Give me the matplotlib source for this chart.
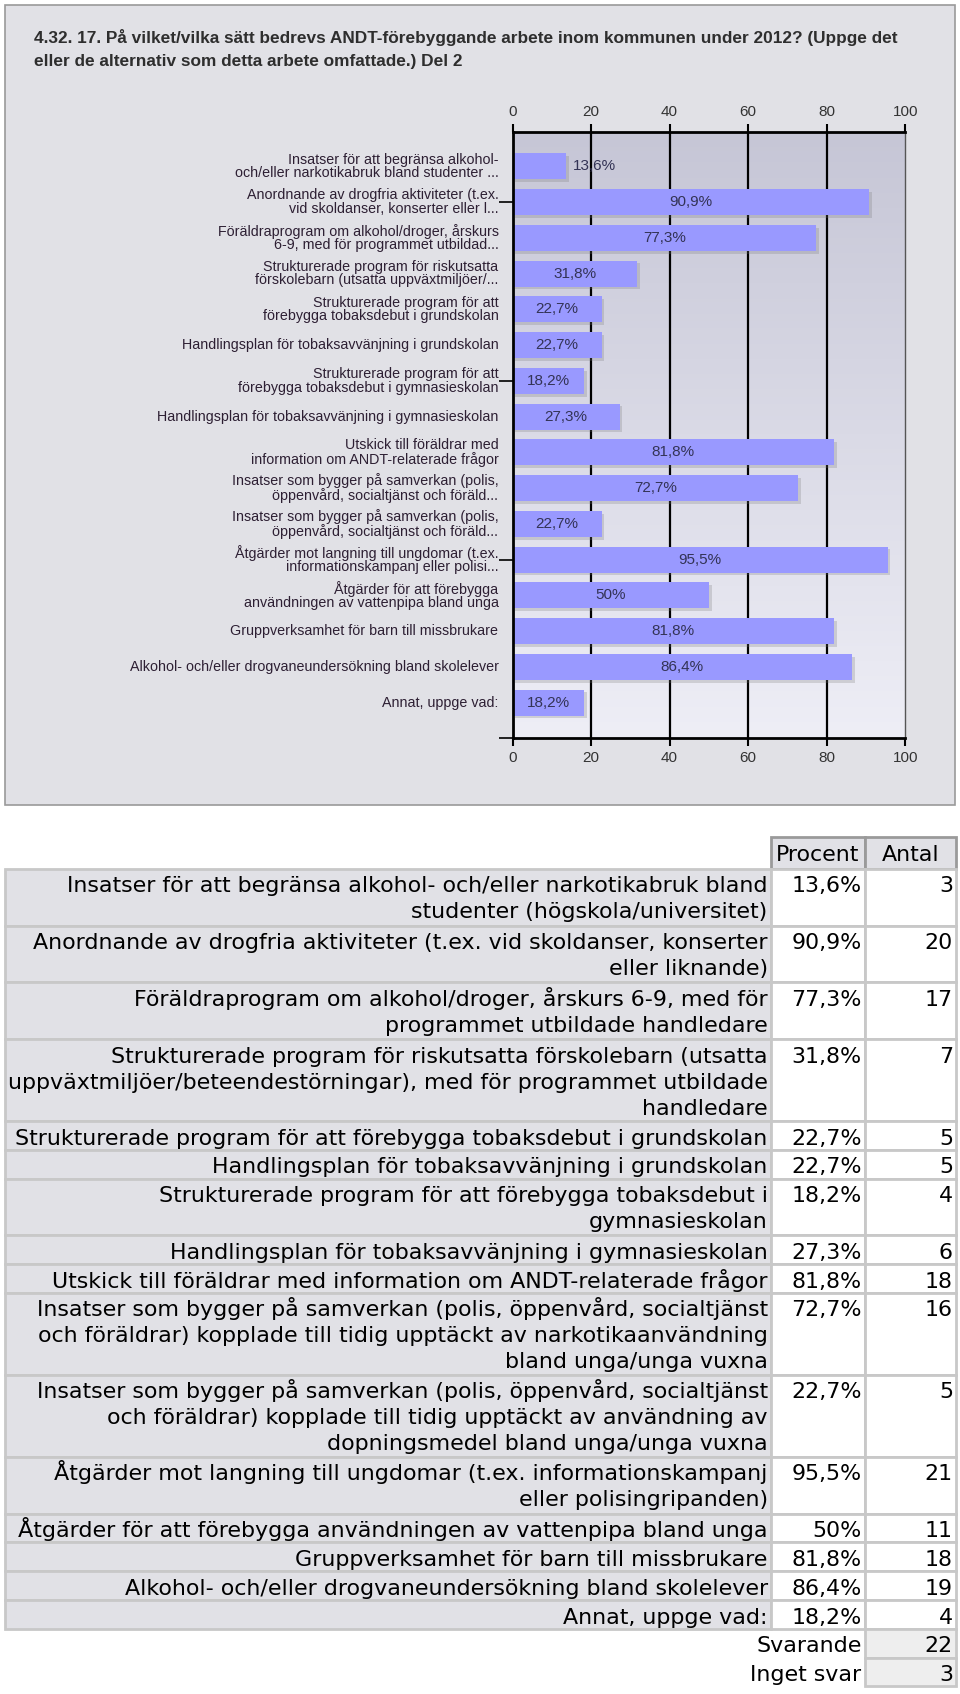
import numpy as np
import matplotlib
matplotlib.use('Agg')
import matplotlib.pyplot as plt
from matplotlib.patches import Rectangle
from matplotlib.colors import LinearSegmentedColormap
import matplotlib.patheffects as pe

# ---------------- data ----------------
title_lines = [
    "4.32. 17. På vilket/vilka sätt bedrevs ANDT-förebyggande arbete inom kommunen under 2012? (Uppge det",
    "eller de alternativ som detta arbete omfattade.) Del 2",
]

chart_labels = [
    "Insatser för att begränsa alkohol-\noch/eller narkotikabruk bland studenter ...",
    "Anordnande av drogfria aktiviteter (t.ex.\nvid skoldanser, konserter eller l...",
    "Föräldraprogram om alkohol/droger, årskurs\n6-9, med för programmet utbildad...",
    "Strukturerade program för riskutsatta\nförskolebarn (utsatta uppväxtmiljöer/...",
    "Strukturerade program för att\nförebygga tobaksdebut i grundskolan",
    "Handlingsplan för tobaksavvänjning i grundskolan",
    "Strukturerade program för att\nförebygga tobaksdebut i gymnasieskolan",
    "Handlingsplan för tobaksavvänjning i gymnasieskolan",
    "Utskick till föräldrar med\ninformation om ANDT-relaterade frågor",
    "Insatser som bygger på samverkan (polis,\nöppenvård, socialtjänst och föräld...",
    "Insatser som bygger på samverkan (polis,\nöppenvård, socialtjänst och föräld...",
    "Åtgärder mot langning till ungdomar (t.ex.\ninformationskampanj eller polisi...",
    "Åtgärder för att förebygga\nanvändningen av vattenpipa bland unga",
    "Gruppverksamhet för barn till missbrukare",
    "Alkohol- och/eller drogvaneundersökning bland skolelever",
    "Annat, uppge vad:",
]

table_labels = [
    "Insatser för att begränsa alkohol- och/eller narkotikabruk bland\nstudenter (högskola/universitet)",
    "Anordnande av drogfria aktiviteter (t.ex. vid skoldanser, konserter\neller liknande)",
    "Föräldraprogram om alkohol/droger, årskurs 6-9, med för\nprogrammet utbildade handledare",
    "Strukturerade program för riskutsatta förskolebarn (utsatta\nuppväxtmiljöer/beteendestörningar), med för programmet utbildade\nhandledare",
    "Strukturerade program för att förebygga tobaksdebut i grundskolan",
    "Handlingsplan för tobaksavvänjning i grundskolan",
    "Strukturerade program för att förebygga tobaksdebut i\ngymnasieskolan",
    "Handlingsplan för tobaksavvänjning i gymnasieskolan",
    "Utskick till föräldrar med information om ANDT-relaterade frågor",
    "Insatser som bygger på samverkan (polis, öppenvård, socialtjänst\noch föräldrar) kopplade till tidig upptäckt av narkotikaanvändning\nbland unga/unga vuxna",
    "Insatser som bygger på samverkan (polis, öppenvård, socialtjänst\noch föräldrar) kopplade till tidig upptäckt av användning av\ndopningsmedel bland unga/unga vuxna",
    "Åtgärder mot langning till ungdomar (t.ex. informationskampanj\neller polisingripanden)",
    "Åtgärder för att förebygga användningen av vattenpipa bland unga",
    "Gruppverksamhet för barn till missbrukare",
    "Alkohol- och/eller drogvaneundersökning bland skolelever",
    "Annat, uppge vad:",
]

percent = [13.6, 90.9, 77.3, 31.8, 22.7, 22.7, 18.2, 27.3, 81.8, 72.7, 22.7, 95.5, 50, 81.8, 86.4, 18.2]
antal = [3, 20, 17, 7, 5, 5, 4, 6, 18, 16, 5, 21, 11, 18, 19, 4]
header = ["Procent", "Antal"]
summary_labels = ["Svarande", "Inget svar"]
summary_values = [22, 3]
x_ticks = [0, 20, 40, 60, 80, 100]
y_marks = [1, 6, 11, 16]


def fmt_pct(v):
    s = f"{v:.1f}"
    if s.endswith(".0"):
        s = s[:-2]
    return s.replace(".", ",") + "%"


# ---------------- figure ----------------
W, H = 960, 1694
fig = plt.figure(figsize=(W / 100, H / 100), dpi=100)
fig.patch.set_facecolor('white')

base = fig.add_axes([0, 0, 1, 1])
base.set_xlim(0, W)
base.set_ylim(H, 0)
base.axis('off')

# chart panel
base.add_patch(Rectangle((5, 5), 950, 800, facecolor='#e1e1e6', edgecolor='#9a9a9a', lw=1.2))
TF = 'Liberation Sans'
base.text(34, 38, title_lines[0], fontsize=12.4, fontweight='bold', color='#2e2e2e',
          va='center', ha='left', family=TF)
base.text(34, 61.5, title_lines[1], fontsize=12.4, fontweight='bold', color='#2e2e2e',
          va='center', ha='left', family=TF)

# chart axes
ax_l, ax_r, ax_t, ax_b = 512.5, 905.2, 131.7, 738.3
pos = [ax_l / W, 1 - ax_b / H, (ax_r - ax_l) / W, (ax_b - ax_t) / H]

bg = fig.add_axes(pos)
grad = LinearSegmentedColormap.from_list('g', ['#c6c6d6', '#eeeef6'])
bg.imshow(np.linspace(0, 1, 256)[:, None], cmap=grad, aspect='auto',
          extent=(0, 1, 0, 1), origin='upper')
bg.axis('off')

ax = fig.add_axes(pos)
ax.patch.set_alpha(0)
n = len(percent)
ypos = np.arange(n)
ax.barh(ypos, percent, height=0.73, color='#9999ff', zorder=3,
        path_effects=[pe.SimplePatchShadow(offset=(2, -2), shadow_rgbFace='#777777', alpha=0.25), pe.Normal()])
ax.set_xlim(0, 100)
ax.set_ylim(16.0, -0.97)

for g in x_ticks[1:-1]:
    ax.axvline(g, color='black', lw=1.6, zorder=1)

for s in ['top', 'bottom', 'left']:
    ax.spines[s].set_color('black')
    ax.spines[s].set_linewidth(2)
    ax.spines[s].set_zorder(4)
ax.spines['right'].set_color('#555555')
ax.spines['right'].set_linewidth(1)

ax.set_xticks(x_ticks)
ax.tick_params(axis='x', top=True, bottom=True, labeltop=True, labelbottom=True,
               length=6, width=1.5, color='black', labelsize=11, labelcolor='#333333', pad=3)
for t in ax.get_xticklabels():
    t.set_family(TF)
ax.set_yticks(y_marks)
ax.tick_params(axis='y', length=10, width=1.2, color='black', labelleft=False)

for i, lab in enumerate(chart_labels):
    ax.annotate(lab, xy=(0, i), xycoords=('axes fraction', 'data'), xytext=(-14, 0),
                textcoords='offset pixels', ha='right', va='center', fontsize=10.3,
                color='#2d1f33', linespacing=0.95, family=TF)

for i, v in enumerate(percent):
    if v < 15:
        ax.annotate(fmt_pct(v), xy=(v, i), xytext=(7, 0), textcoords='offset pixels',
                    ha='left', va='center', fontsize=11, color='#333355', family=TF, zorder=5)
    else:
        ax.text(v / 2, i, fmt_pct(v), ha='center', va='center', fontsize=11,
                color='#333355', family=TF, zorder=5)

# ---------------- table ----------------
FF = 'DejaVu Sans'
FS = 15.9
x0, x1, x2, x3 = 5, 770.7, 865, 956
row_h = {1: 28.8, 2: 56.7, 3: 82.0}
line_step = 26.0
first_base = 23.5
border = '#c8c8c8'

hy0, hy1 = 837, 869
for (xa, xb), txt in zip([(x1, x2), (x2, x3)], header):
    base.add_patch(Rectangle((xa, hy0), xb - xa, hy1 - hy0, facecolor='#e1e1e6',
                             edgecolor='#9a9a9a', lw=2))
    base.text((xa + xb) / 2, hy0 + 24, txt, ha='center', va='baseline', fontsize=FS,
              family=FF, color='black')

y = hy1
for lab, p, a in zip(table_labels, percent, antal):
    lines = lab.split('\n')
    h = row_h[len(lines)]
    base.add_patch(Rectangle((x0, y), x1 - x0, h, facecolor='#e1e1e6', edgecolor=border, lw=2))
    base.add_patch(Rectangle((x1, y), x2 - x1, h, facecolor='white', edgecolor=border, lw=2))
    base.add_patch(Rectangle((x2, y), x3 - x2, h, facecolor='white', edgecolor=border, lw=2))
    for k, ln in enumerate(lines):
        base.text(x1 - 3, y + first_base + line_step * k, ln, ha='right', va='baseline',
                  fontsize=FS, family=FF, color='black')
    base.text(x2 - 3.5, y + first_base, fmt_pct(p), ha='right', va='baseline',
              fontsize=FS, family=FF, color='black')
    base.text(x3 - 3, y + first_base, str(a), ha='right', va='baseline',
              fontsize=FS, family=FF, color='black')
    y += h

for lab, v in zip(summary_labels, summary_values):
    h = row_h[1]
    base.add_patch(Rectangle((x2, y), x3 - x2, h, facecolor='#eeeeee', edgecolor=border, lw=2))
    base.text(x2 - 3.5, y + first_base, lab, ha='right', va='baseline', fontsize=FS,
              family=FF, color='black')
    base.text(x3 - 3, y + first_base, str(v), ha='right', va='baseline', fontsize=FS,
              family=FF, color='black')
    y += h

fig.savefig('out.png', dpi=100)
